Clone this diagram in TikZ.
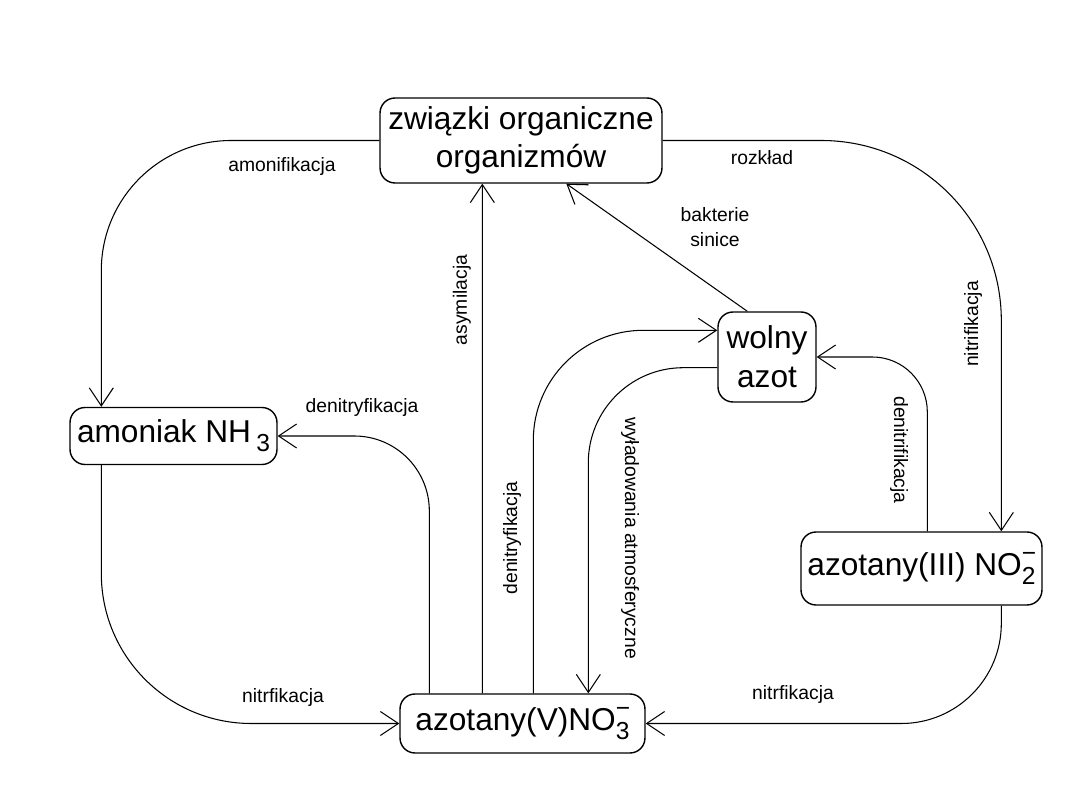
\documentclass[tikz,border=0pt]{standalone}
\usepackage{fontspec}
\setmainfont{Liberation Sans}
\usetikzlibrary{arrows.meta, calc}
\newcommand{\ionsub}[2]{\makebox[0pt][l]{\raisebox{0.85ex}{\fontsize{14}{14}\selectfont #1}}\raisebox{-0.55ex}{\fontsize{14}{14}\selectfont #2}}
\tikzset{
  pool/.style={
    draw=black,
    rounded corners=0.3cm,
    line width=0.8pt,
    align=center,
    inner sep=2pt,
    font=\fontsize{18}{22}\selectfont
  },
  tag/.style={align=center, inner sep=1pt, font=\fontsize{11}{14}\selectfont},
  flow/.style={-{Straight Barb[length=0.36cm, width=0.48cm]}, line width=0.6pt, draw=black}
}

\begin{document}
\begin{tikzpicture}[x=0.02cm, y=-0.02cm]
\useasboundingbox (0,0) rectangle (1080,810);

\node[pool, minimum width=5.64cm, minimum height=1.7cm] (org) at (521,140.5) {związki organiczne\\organizmów};
\node[pool, minimum width=4.14cm, minimum height=1.14cm] (amoniak) at (173.5,436) {amoniak NH\,\ionsub{}{3}};
\node[pool, minimum width=4.9cm, minimum height=1.18cm] (no3) at (522.5,723.5) {azotany(V)NO\ionsub{−}{3}};
\node[pool, minimum width=4.82cm, minimum height=1.46cm] (no2) at (921.5,568.5) {azotany(III) NO\ionsub{−}{2}};
\node[pool, minimum width=1.96cm, minimum height=1.8cm] (wolny) at (767,357) {wolny\\azot};

% edge labels
\node[tag] (lamon) at (282,167) {amonifikacja};
\node[tag] (lrozk) at (762,158) {rozkład};
\node[tag] (lbakt) at (715,227) {bakterie\\sinice};
\node[tag, rotate=90] (lasym) at (462,300) {asymilacja};
\node[tag, rotate=90] (lnitr) at (973,324) {nitrifikacja};
\node[tag] (ldenl) at (362,408) {denitryfikacja};
\node[tag, rotate=90] (ldenc) at (512,538) {denitryfikacja};
\node[tag, rotate=-90] (lwyla) at (630,538) {wyładowania atmosferyczne};
\node[tag, rotate=-90] (ldenr) at (899,450) {denitrifikacja};
\node[tag] (lnitl) at (283,698) {nitrfikacja};
\node[tag] (lnitb) at (793,695) {nitrfikacja};

\draw[flow, rounded corners=2.6cm] (org.west) -| ($(amoniak.north west)+(32,0)$);
\draw[flow, rounded corners=3.6cm] (org.east) -| ($(no2.north west)+(201,0)$);
\draw[flow] ($(wolny.north west)+(30,0)$) -- ($(org.south west)+(187,0)$);
\draw[flow] ($(no3.north west)+(83,0)$) -- ($(org.south west)+(103,0)$);
\draw[flow, rounded corners=1.5cm] ($(no3.north west)+(30,0)$) |- (amoniak.east);
\draw[flow, rounded corners=2.2cm] ($(no3.north west)+(134,0)$) |- ($(wolny.north west)+(0,19)$);
\draw[flow, rounded corners=1.9cm] ($(wolny.south west)+(0,-35)$) -| ($(no3.north west)+(189,0)$);
\draw[flow, rounded corners=1.1cm] ($(no2.north west)+(127,0)$) |- (wolny.east);
\draw[flow, rounded corners=3cm] ($(amoniak.south west)+(32,0)$) |- (no3.west);
\draw[flow, rounded corners=2cm] ($(no2.south west)+(201,0)$) |- (no3.east);

\end{tikzpicture}
\end{document}
